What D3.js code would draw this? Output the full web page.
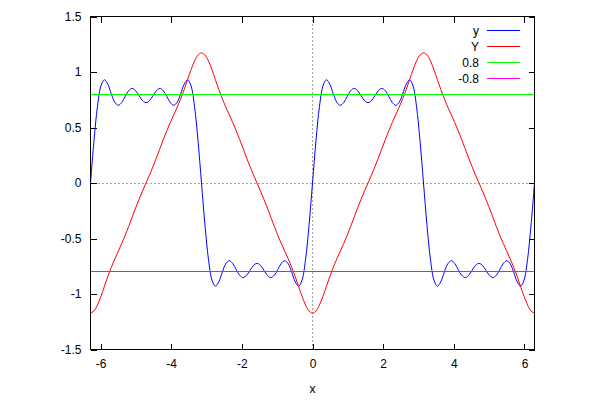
<!DOCTYPE html>
<html>
<head>
<meta charset="utf-8">
<script src="https://cdn.jsdelivr.net/npm/d3@7"></script>
<style>
  body { margin: 0; background: #fff; }
  svg { display: block; font-family: "Liberation Sans", Arial, sans-serif; font-size: 12px; }
</style>
</head>
<body>
<script>
// x samples, -2pi .. 2pi
const xs = [
  -6.283, -6.185, -6.087, -5.989, -5.890, -5.792, -5.694, -5.596, -5.498, -5.400, -5.301, -5.203, -5.105, -5.007, -4.909, -4.811,
  -4.712, -4.614, -4.516, -4.418, -4.320, -4.222, -4.123, -4.025, -3.927, -3.829, -3.731, -3.632, -3.534, -3.436, -3.338, -3.240,
  -3.142, -3.043, -2.945, -2.847, -2.749, -2.651, -2.553, -2.454, -2.356, -2.258, -2.160, -2.062, -1.963, -1.865, -1.767, -1.669,
  -1.571, -1.473, -1.374, -1.276, -1.178, -1.080, -0.982, -0.884, -0.785, -0.687, -0.589, -0.491, -0.393, -0.295, -0.196, -0.098,
  0,
  0.098, 0.196, 0.295, 0.393, 0.491, 0.589, 0.687, 0.785, 0.884, 0.982, 1.080, 1.178, 1.276, 1.374, 1.473, 1.571,
  1.669, 1.767, 1.865, 1.963, 2.062, 2.160, 2.258, 2.356, 2.454, 2.553, 2.651, 2.749, 2.847, 2.945, 3.043, 3.142,
  3.240, 3.338, 3.436, 3.534, 3.632, 3.731, 3.829, 3.927, 4.025, 4.123, 4.222, 4.320, 4.418, 4.516, 4.614, 4.712,
  4.811, 4.909, 5.007, 5.105, 5.203, 5.301, 5.400, 5.498, 5.596, 5.694, 5.792, 5.890, 5.989, 6.087, 6.185, 6.283
];

// blue curve "y"
const ySmall = [
  0, 0.380, 0.687, 0.873, 0.930, 0.889, 0.803, 0.728, 0.700, 0.725, 0.780, 0.831, 0.852, 0.832, 0.787, 0.742,
  0.724, 0.742, 0.787, 0.832, 0.852, 0.831, 0.780, 0.725, 0.700, 0.728, 0.803, 0.889, 0.930, 0.873, 0.687, 0.380,
  0, -0.380, -0.687, -0.873, -0.930, -0.889, -0.803, -0.728, -0.700, -0.725, -0.780, -0.831, -0.852, -0.832, -0.787, -0.742,
  -0.724, -0.742, -0.787, -0.832, -0.852, -0.831, -0.780, -0.725, -0.700, -0.728, -0.803, -0.889, -0.930, -0.873, -0.687, -0.380,
  0,
  0.380, 0.687, 0.873, 0.930, 0.889, 0.803, 0.728, 0.700, 0.725, 0.780, 0.831, 0.852, 0.832, 0.787, 0.742, 0.724,
  0.742, 0.787, 0.832, 0.852, 0.831, 0.780, 0.725, 0.700, 0.728, 0.803, 0.889, 0.930, 0.873, 0.687, 0.380, 0,
  -0.380, -0.687, -0.873, -0.930, -0.889, -0.803, -0.728, -0.700, -0.725, -0.780, -0.831, -0.852, -0.832, -0.787, -0.742, -0.724,
  -0.742, -0.787, -0.832, -0.852, -0.831, -0.780, -0.725, -0.700, -0.728, -0.803, -0.889, -0.930, -0.873, -0.687, -0.380, 0
];

// red curve "Y"
const yBig = [
  -1.172, -1.153, -1.099, -1.022, -0.932, -0.842, -0.759, -0.684, -0.615, -0.545, -0.471, -0.392, -0.309, -0.226, -0.147, -0.072,
  0, 0.072, 0.147, 0.226, 0.309, 0.392, 0.471, 0.545, 0.615, 0.684, 0.759, 0.842, 0.932, 1.022, 1.099, 1.153,
  1.172, 1.153, 1.099, 1.022, 0.932, 0.842, 0.759, 0.684, 0.615, 0.545, 0.471, 0.392, 0.309, 0.226, 0.147, 0.072,
  0, -0.072, -0.147, -0.226, -0.309, -0.392, -0.471, -0.545, -0.615, -0.684, -0.759, -0.842, -0.932, -1.022, -1.099, -1.153,
  -1.172,
  -1.153, -1.099, -1.022, -0.932, -0.842, -0.759, -0.684, -0.615, -0.545, -0.471, -0.392, -0.309, -0.226, -0.147, -0.072, 0,
  0.072, 0.147, 0.226, 0.309, 0.392, 0.471, 0.545, 0.615, 0.684, 0.759, 0.842, 0.932, 1.022, 1.099, 1.153, 1.172,
  1.153, 1.099, 1.022, 0.932, 0.842, 0.759, 0.684, 0.615, 0.545, 0.471, 0.392, 0.309, 0.226, 0.147, 0.072, 0,
  -0.072, -0.147, -0.226, -0.309, -0.392, -0.471, -0.545, -0.615, -0.684, -0.759, -0.842, -0.932, -1.022, -1.099, -1.153, -1.172
];

const levels = [0.8, -0.8];
const seriesNames = ["y", "Y", "0.8", "-0.8"];
const seriesColors = ["#0000ff", "#ff0000", "#00ff00", "#ff00ff"];
const xTicks = [-6, -4, -2, 0, 2, 4, 6];
const yTicks = [-1.5, -1, -0.5, 0, 0.5, 1, 1.5];

const W = 600, H = 400;
const pL = 90.5, pR = 534.5, pT = 16.5, pB = 349.5;

const svg = d3.select("body").append("svg")
    .attr("width", W)
    .attr("height", H);

const x = d3.scaleLinear().domain([-2 * Math.PI, 2 * Math.PI]).range([pL, pR]);
const y = d3.scaleLinear().domain([-1.5, 1.5]).range([pB, pT]);
const snap = v => Math.round(v - 0.5) + 0.5;

svg.append("clipPath").attr("id", "plot")
    .append("rect")
    .attr("x", pL).attr("y", pT)
    .attr("width", pR - pL).attr("height", pB - pT);

// zero axes (dotted)
const zero = svg.append("g")
    .attr("stroke", "#444")
    .attr("stroke-width", 1)
    .attr("stroke-dasharray", "1,3");
zero.append("line")
    .attr("x1", pL).attr("x2", pR)
    .attr("y1", snap(y(0))).attr("y2", snap(y(0)));
zero.append("line")
    .attr("x1", snap(x(0))).attr("x2", snap(x(0)))
    .attr("y1", pT).attr("y2", pB);

// axes, ticks inward, mirrored on top and right
const tick = 6;
const fmt = d => String(d);
svg.append("g")
    .attr("transform", `translate(0,${pB})`)
    .call(d3.axisBottom(x).tickValues(xTicks).tickSizeInner(-tick).tickSizeOuter(0).tickPadding(10).tickFormat(fmt));
svg.append("g")
    .attr("transform", `translate(0,${pT})`)
    .call(d3.axisTop(x).tickValues(xTicks).tickSizeInner(-tick).tickSizeOuter(0).tickFormat(""));
svg.append("g")
    .attr("transform", `translate(${pL},0)`)
    .call(d3.axisLeft(y).tickValues(yTicks).tickSizeInner(-tick).tickSizeOuter(0).tickPadding(9).tickFormat(fmt));
svg.append("g")
    .attr("transform", `translate(${pR},0)`)
    .call(d3.axisRight(y).tickValues(yTicks).tickSizeInner(-tick).tickSizeOuter(0).tickFormat(""));

svg.selectAll(".domain").remove();
svg.selectAll(".tick line").attr("stroke", "#000").attr("shape-rendering", "crispEdges");
svg.selectAll(".tick text").attr("fill", "#000").style("font-size", "12px")
    .style("font-family", "'Liberation Sans', Arial, sans-serif");

// frame
svg.append("rect")
    .attr("x", pL).attr("y", pT)
    .attr("width", pR - pL).attr("height", pB - pT)
    .attr("fill", "none").attr("stroke", "#000").attr("stroke-width", 1);

const pts = vals => xs.map((v, i) => [v, vals[i]]);
const line = d3.line().x(d => x(d[0])).y(d => y(d[1])).curve(d3.curveCatmullRom.alpha(0.5));

const plot = svg.append("g").attr("clip-path", "url(#plot)");
plot.append("path").datum(pts(ySmall))
    .attr("d", line).attr("fill", "none").attr("stroke", seriesColors[0]).attr("stroke-width", 1);
plot.append("path").datum(pts(yBig))
    .attr("d", line).attr("fill", "none").attr("stroke", seriesColors[1]).attr("stroke-width", 1);
plot.selectAll(".level").data(levels).enter().append("line")
    .attr("x1", pL).attr("x2", pR)
    .attr("y1", d => snap(y(d))).attr("y2", d => snap(y(d)))
    .attr("stroke", (d, i) => seriesColors[i + 2]).attr("stroke-width", 1);

// legend
const legend = svg.append("g");
seriesNames.forEach((name, i) => {
    const ly = 30.5 + i * 16;
    legend.append("text")
        .attr("x", 479).attr("y", ly + 0.5).attr("dy", "0.35em")
        .attr("text-anchor", "end").attr("fill", "#000")
        .text(name);
    legend.append("line")
        .attr("x1", 487).attr("x2", 520)
        .attr("y1", ly).attr("y2", ly)
        .attr("stroke", seriesColors[i]).attr("stroke-width", 1);
});

// x label
svg.append("text")
    .attr("x", x(0)).attr("y", 389).attr("dy", "0.35em")
    .attr("text-anchor", "middle").attr("fill", "#000")
    .text("x");
</script>
</body>
</html>
